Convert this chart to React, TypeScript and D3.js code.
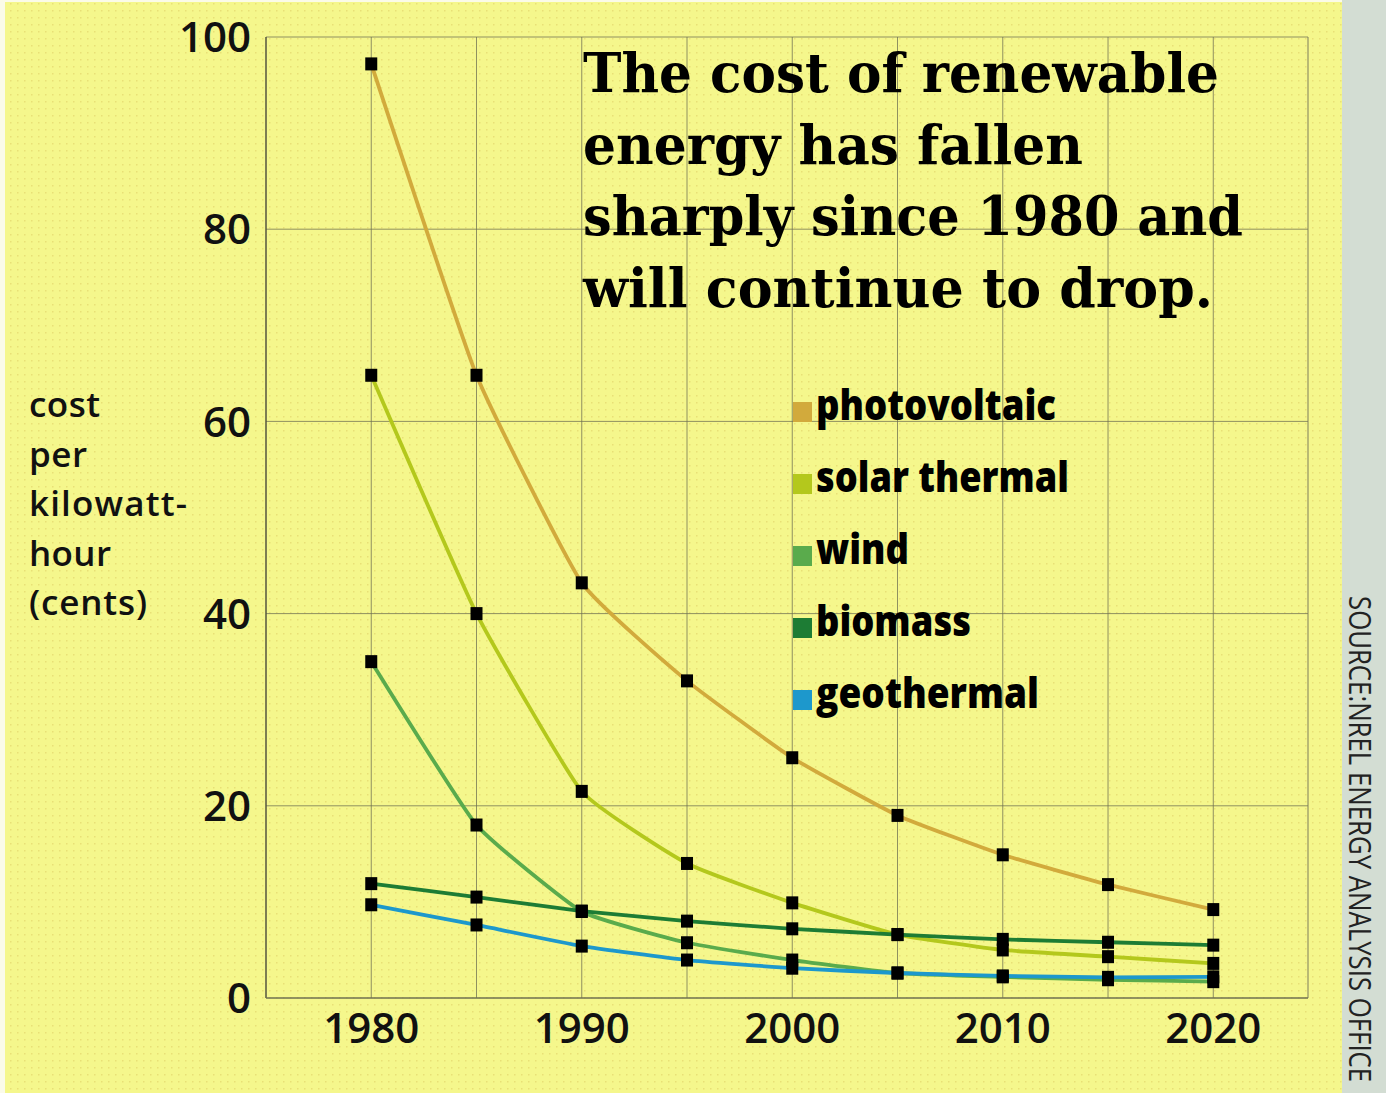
import React, { useLayoutEffect, useRef, useState } from "react";
import * as d3 from "d3";

const years = [1980, 1985, 1990, 1995, 2000, 2005, 2010, 2015, 2020];
const photovoltaic = [97.2, 64.8, 43.2, 33, 25, 19, 14.9, 11.8, 9.2];
const solarThermal = [64.8, 40, 21.5, 14, 9.9, 6.6, 5.0, 4.3, 3.6];
const wind = [35, 18, 9, 5.75, 3.95, 2.6, 2.2, 1.9, 1.7];
const biomass = [11.9, 10.5, 9.05, 8.0, 7.2, 6.6, 6.1, 5.8, 5.5];
const geothermal = [9.7, 7.6, 5.4, 3.95, 3.1, 2.6, 2.3, 2.15, 2.2];

const seriesNames = ["photovoltaic", "solar thermal", "wind", "biomass", "geothermal"];
const seriesColors = ["#d2aa3c", "#b4c81c", "#5aab4c", "#1d7c34", "#1d98cc"];
const seriesValues = [photovoltaic, solarThermal, wind, biomass, geothermal];
const legendWidths = [240, 253, 93, 155, 223];

const yTicks = [0, 20, 40, 60, 80, 100];
const xTickLabels = [1980, 1990, 2000, 2010, 2020];
const gridYears = [1980, 1985, 1990, 1995, 2000, 2005, 2010, 2015, 2020];
const xDomain = [1975, 2024.5];
const yDomain = [0, 100];

const titleLines = [
  "The cost of renewable",
  "energy has fallen",
  "sharply since 1980 and",
  "will continue to drop.",
];
const titleWidths = [636, 500, 660, 630];
const yLabelLines = ["cost", "per", "kilowatt-", "hour", "(cents)"];
const yLabelWidths = [71, 58, 158, 82, 118];
const sourceText = "SOURCE:NREL ENERGY ANALYSIS OFFICE";
const sourceLength = 486;

export default function App() {
  const W = 1386;
  const H = 1093;
  const x = d3.scaleLinear().domain(xDomain).range([266, 1308]);
  const y = d3.scaleLinear().domain(yDomain).range([998, 37]);
  const line = d3
    .line<number>()
    .x((_, i) => x(years[i]))
    .y((d) => y(d))
    .curve(d3.curveCardinal.tension(0.6));

  const srcRef = useRef<SVGTextElement>(null);
  const [srcScale, setSrcScale] = useState(0.78);
  useLayoutEffect(() => {
    if (srcRef.current) {
      const len = srcRef.current.getComputedTextLength();
      if (len > 0) setSrcScale(sourceLength / len);
    }
  }, []);

  const left = x(xDomain[0]);
  const right = x(xDomain[1]);
  const top = y(yDomain[1]);
  const bottom = y(yDomain[0]);
  const sans = "'Open Sans', 'Noto Sans', sans-serif";

  return (
    <svg
      width={W}
      height={H}
      style={{ position: "absolute", left: 0, top: 0, display: "block" }}
    >
      <defs>
        <pattern id="dots" width="7" height="7" patternUnits="userSpaceOnUse">
          <rect x="3" y="3" width="1.5" height="1.5" fill="#d9c35a" opacity="0.45" />
        </pattern>
      </defs>
      <rect x={0} y={0} width={W} height={H} fill="#fbfbe8" />
      <rect x={5} y={2} width={1337} height={H - 2} fill="#f5f78c" />
      <rect x={5} y={2} width={1337} height={H - 2} fill="url(#dots)" />
      <rect x={1342} y={0} width={W - 1342} height={H} fill="#d3ddd3" />

      {/* grid */}
      {gridYears.map((g) => (
        <line key={"gx" + g} x1={x(g)} x2={x(g)} y1={top} y2={bottom} stroke="#6e6e52" strokeWidth={1} opacity={0.75} />
      ))}
      {yTicks.filter((t) => t > 0).map((t) => (
        <line key={"gy" + t} x1={left} x2={right} y1={y(t)} y2={y(t)} stroke="#6e6e52" strokeWidth={1} opacity={0.75} />
      ))}
      <line x1={right} x2={right} y1={top} y2={bottom} stroke="#7a7a5c" strokeWidth={1.2} opacity={0.8} />
      <line x1={left} x2={left} y1={top} y2={bottom} stroke="#55553f" strokeWidth={1.5} />
      <line x1={left} x2={right} y1={bottom} y2={bottom} stroke="#6f7050" strokeWidth={1.5} />

      {/* y ticks */}
      {yTicks.map((t) => (
        <text key={"yt" + t} x={251} y={y(t)} dy="0.36em" textAnchor="end" fontFamily={sans} fontWeight={600} fontSize={42} fill="#111">
          {t}
        </text>
      ))}
      {/* x ticks */}
      {xTickLabels.map((t) => (
        <text key={"xt" + t} x={x(t)} y={1043} textAnchor="middle" fontFamily={sans} fontWeight={600} fontSize={42} fill="#111">
          {t}
        </text>
      ))}

      {/* y label */}
      {yLabelLines.map((l, i) => (
        <text
          key={"yl" + i}
          x={29}
          y={417 + i * 49.5}
          fontFamily={sans}
          fontWeight={600}
          fontSize={35}
          textLength={yLabelWidths[i]}
          lengthAdjust="spacing"
          fill="#111"
        >
          {l}
        </text>
      ))}

      {/* series lines */}
      {seriesValues.map((vals, si) => (
        <path key={"l" + si} d={line(vals) || ""} fill="none" stroke={seriesColors[si]} strokeWidth={3.8} />
      ))}
      {seriesValues.map((vals, si) =>
        vals.map((v, i) => (
          <rect key={"m" + si + "-" + i} x={x(years[i]) - 6} y={y(v) - 6.5} width={12} height={13} fill="#000" />
        ))
      )}

      {/* title */}
      {titleLines.map((l, i) => (
        <text
          key={"t" + i}
          x={583}
          y={92 + i * 71.5}
          fontFamily="'DejaVu Serif', serif"
          fontWeight="bold"
          fontSize={54}
          textLength={titleWidths[i]}
          lengthAdjust="spacingAndGlyphs"
          fill="#000"
        >
          {l}
        </text>
      ))}

      {/* legend */}
      {seriesNames.map((n, i) => (
        <g key={"lg" + i}>
          <rect x={793} y={402 + i * 72} width={19} height={20} fill={seriesColors[i]} />
          <text
            x={816}
            y={420 + i * 72}
            fontFamily={sans}
            fontWeight={800}
            fontSize={42}
            textLength={legendWidths[i]}
            lengthAdjust="spacingAndGlyphs"
            fill="#000"
          >
            {n}
          </text>
        </g>
      ))}

      {/* source */}
      <g transform={`translate(1349,596) rotate(90) scale(${srcScale},1)`}>
        <text ref={srcRef} fontFamily={sans} fontSize={31} fill="#222">
          {sourceText}
        </text>
      </g>
    </svg>
  );
}
